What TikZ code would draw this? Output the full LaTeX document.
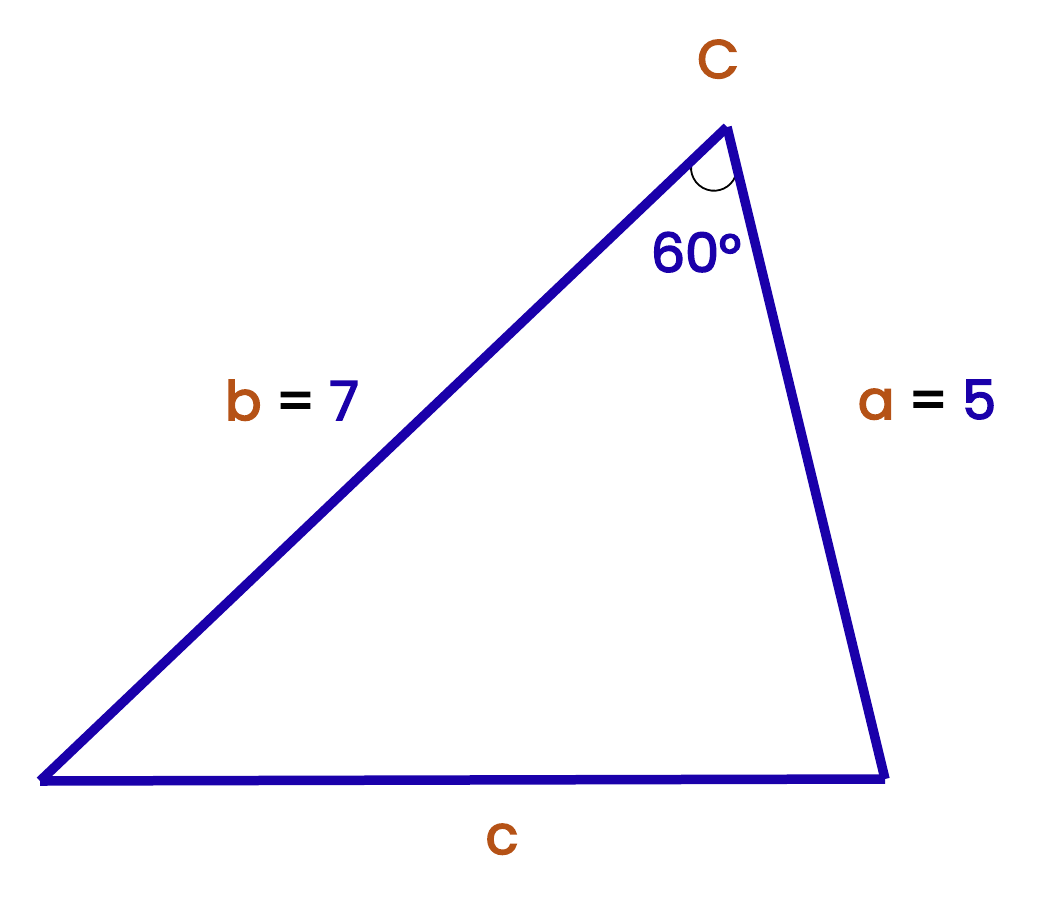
\documentclass[tikz,border=0pt]{standalone}
\usepackage{fontspec}
\setmainfont{Poppins}[UprightFeatures={FakeBold=3}]
\definecolor{brn}{RGB}{181,82,22}
\definecolor{blu}{RGB}{26,0,170}
\begin{document}
\begin{tikzpicture}[x=1pt,y=-1pt,
  side/.style={draw=blu,line width=9.5pt,line cap=butt},
  lbl/.style={anchor=base,inner sep=0pt,font=\fontsize{54}{60}\selectfont},
  angarc/.style={draw=black,line width=1.8pt}]
\useasboundingbox (0,0) rectangle (1043,898);
\coordinate (A) at (40,781);
\coordinate (B) at (885,779);
\coordinate (C) at (727,127);
\draw[angarc] (692,161) arc[start angle=197,end angle=22,radius=23];
\draw[side] (A) -- (B);
\draw[side] (B) -- (C);
\draw[side] (C) -- (A);
\node[lbl,text=brn] (lC) at (718,78) {C};
\node[lbl,text=blu] (ang) at (696,272) {60°};
\node[lbl] (lb) at (292,420) {\textcolor{brn}{b} = \textcolor{blu}{7}};
\node[lbl] (la) at (927,419) {\textcolor{brn}{a} = \textcolor{blu}{5}};
\node[lbl,text=brn] (lc) at (502,854) {c};
\end{tikzpicture}
\end{document}
